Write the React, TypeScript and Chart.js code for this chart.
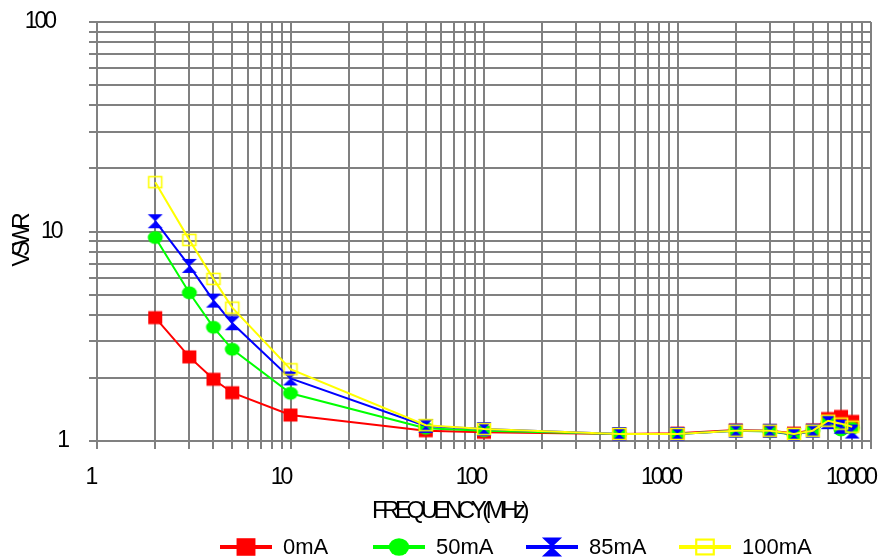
import React, { useEffect, useRef } from 'react';
import { Chart, registerables } from 'chart.js';

Chart.register(...registerables);

// ---------- data ----------
const frequencies = [2, 3, 4, 5, 10, 50, 100, 500, 1000, 2000, 3000, 4000, 5000, 6000, 7000, 8000];
const vswr0mA = [3.88, 2.52, 1.97, 1.7, 1.33, 1.12, 1.1, 1.08, 1.09, 1.13, 1.12, 1.09, 1.13, 1.28, 1.31, 1.24];
const vswr50mA = [9.36, 5.1, 3.49, 2.74, 1.69, 1.15, 1.12, 1.08, 1.08, 1.12, 1.11, 1.07, 1.12, 1.23, 1.13, 1.15];
const vswr85mA = [11.2, 6.85, 4.68, 3.65, 1.99, 1.18, 1.14, 1.08, 1.08, 1.12, 1.12, 1.07, 1.12, 1.23, 1.17, 1.11];
const vswr100mA = [17.2, 9.12, 5.94, 4.33, 2.2, 1.19, 1.14, 1.08, 1.08, 1.12, 1.12, 1.08, 1.12, 1.25, 1.21, 1.17];
const seriesLabels = ['0mA', '50mA', '85mA', '100mA'];

const xTickValues = [1, 10, 100, 1000, 10000];
const xTickLabels = ['1', '10', '100', '1000', '10000'];
const yTickValues = [1, 10, 100];
const yTickLabels = ['1', '10', '100'];
const xTitle = 'FREQUENCY(MHz)';
const yTitle = 'VSWR';

// ---------- styles ----------
const seriesColors = ['#FF0000', '#00FF00', '#0000FF', '#FFFF00'];
const seriesMarkers = ['square', 'circle', 'hourglass', 'hollow'];
const FONT = '"Liberation Sans", Arial, Helvetica, sans-serif';

function decadeGrid(majors: number[]): number[] {
  const out: number[] = [];
  for (let i = 0; i < majors.length - 1; i++) {
    for (let k = 1; k <= 9; k++) out.push(k * majors[i]);
  }
  out.push(majors[majors.length - 1]);
  return out;
}

function drawMarker(ctx: CanvasRenderingContext2D, kind: string, color: string, cx: number, cy: number, s: number) {
  ctx.save();
  ctx.fillStyle = color;
  ctx.strokeStyle = color;
  if (kind === 'square') {
    ctx.fillRect(cx - 7 * s, cy - 6.5 * s, 14 * s, 13 * s);
  } else if (kind === 'circle') {
    ctx.beginPath();
    ctx.ellipse(cx, cy, 7.5 * s, 6.5 * s, 0, 0, Math.PI * 2);
    ctx.fill();
  } else if (kind === 'hourglass') {
    ctx.beginPath();
    ctx.moveTo(cx - 7.5 * s, cy - 7 * s);
    ctx.lineTo(cx + 7.5 * s, cy - 7 * s);
    ctx.lineTo(cx, cy);
    ctx.lineTo(cx + 7.5 * s, cy + 7 * s);
    ctx.lineTo(cx - 7.5 * s, cy + 7 * s);
    ctx.lineTo(cx, cy);
    ctx.closePath();
    ctx.fill();
  } else {
    ctx.lineWidth = 1.6 * s;
    ctx.strokeRect(cx - 6.5 * s, cy - 5.5 * s, 13 * s, 11 * s);
  }
  ctx.restore();
}

function markerImage(kind: string, color: string): HTMLCanvasElement {
  const c = document.createElement('canvas');
  c.width = 18;
  c.height = 16;
  const ctx = c.getContext('2d')!;
  drawMarker(ctx, kind, color, 9, 8, 1);
  return c;
}

const textPlugin = {
  id: 'vswrText',
  afterDraw(chart: any) {
    const ctx: CanvasRenderingContext2D = chart.ctx;
    const ca = chart.chartArea;
    const xs = chart.scales.x;
    const ys = chart.scales.y;
    ctx.save();
    ctx.fillStyle = '#000';
    ctx.textBaseline = 'middle';

    // tick labels (tight spacing like the reference)
    ctx.font = `23px ${FONT}`;
    (ctx as any).letterSpacing = '-3px';
    ctx.textAlign = 'right';
    yTickValues.forEach((v, i) => {
      const lab = yTickLabels[i];
      ctx.fillText(lab, ca.left - 30 - 6.5 * (lab.length - 1), ys.getPixelForValue(v));
    });
    ctx.textAlign = 'center';
    xTickValues.forEach((v, i) => {
      const lab = xTickLabels[i];
      ctx.fillText(lab, xs.getPixelForValue(v) - 6.5 - 3.5 * (lab.length - 1), ca.bottom + 37);
    });

    // x title
    ctx.font = `24px ${FONT}`;
    (ctx as any).letterSpacing = '0px';
    const w = ctx.measureText(xTitle).width;
    (ctx as any).letterSpacing = '-4.5px';
    ctx.textAlign = 'left';
    ctx.fillText(xTitle, (ca.left + ca.right) / 2 - w / 2 - 4, ca.bottom + 70);

    // y title
    ctx.save();
    ctx.font = `23px ${FONT}`;
    (ctx as any).letterSpacing = '-5px';
    ctx.translate(23, 242);
    ctx.rotate(-Math.PI / 2);
    ctx.textAlign = 'center';
    ctx.fillText(yTitle, 0, 0);
    ctx.restore();

    // legend
    (ctx as any).letterSpacing = '0px';
    ctx.font = `22px ${FONT}`;
    ctx.textAlign = 'left';
    const ly = 547;
    seriesLabels.forEach((lab, i) => {
      const x0 = 220 + i * 153;
      ctx.beginPath();
      ctx.strokeStyle = seriesColors[i];
      ctx.lineWidth = 4;
      ctx.moveTo(x0, ly);
      ctx.lineTo(x0 + 52, ly);
      ctx.stroke();
      drawMarker(ctx, seriesMarkers[i], seriesColors[i], x0 + 26, ly, 1.35);
      ctx.fillStyle = '#000';
      ctx.fillText(lab, x0 + 63, ly + 1);
    });
    ctx.restore();
  },
};

export default function App() {
  const canvasRef = useRef<HTMLCanvasElement | null>(null);

  useEffect(() => {
    const canvas = canvasRef.current;
    if (!canvas) return;
    const allSeries = [vswr0mA, vswr50mA, vswr85mA, vswr100mA];
    const xGrid = decadeGrid(xTickValues);
    const yGrid = decadeGrid(yTickValues);

    const chart = new Chart(canvas, {
      type: 'line',
      data: {
        datasets: allSeries.map((vals, i) => ({
          label: seriesLabels[i],
          data: frequencies.map((f, j) => ({ x: f, y: vals[j] })),
          borderColor: seriesColors[i],
          backgroundColor: seriesColors[i],
          borderWidth: 2,
          tension: 0,
          pointStyle: markerImage(seriesMarkers[i], seriesColors[i]) as any,
          pointRadius: 8,
          order: 4 - i,
        })),
      },
      options: {
        responsive: false,
        animation: false,
        layout: { padding: { left: 89, top: 22, right: 9, bottom: 110 } },
        plugins: {
          legend: { display: false },
          title: { display: false },
          tooltip: { enabled: false },
        },
        scales: {
          x: {
            type: 'logarithmic',
            min: 1,
            max: 10000,
            afterBuildTicks: (scale: any) => {
              scale.ticks = xGrid.map((v) => ({ value: v }));
            },
            ticks: { display: false, autoSkip: false },
            grid: { color: '#808080', lineWidth: 2, tickLength: 8, drawTicks: true },
            border: { display: true, color: '#808080', width: 2 },
          },
          y: {
            type: 'logarithmic',
            min: 1,
            max: 100,
            afterBuildTicks: (scale: any) => {
              scale.ticks = yGrid.map((v) => ({ value: v }));
            },
            ticks: { display: false, autoSkip: false },
            grid: { color: '#808080', lineWidth: 2, tickLength: 8, drawTicks: true },
            border: { display: true, color: '#808080', width: 2 },
          },
        },
      },
      plugins: [textPlugin],
    } as any);

    return () => chart.destroy();
  }, []);

  return (
    <div style={{ position: 'fixed', left: 0, top: 0, width: 881, height: 559, background: '#fff' }}>
      <canvas ref={canvasRef} width={881} height={559} style={{ display: 'block' }} />
    </div>
  );
}
